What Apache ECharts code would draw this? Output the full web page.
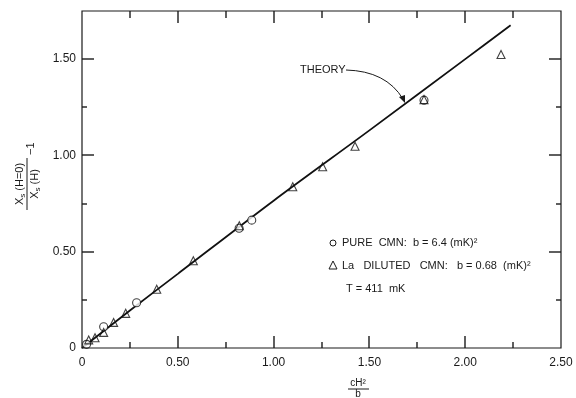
<!DOCTYPE html>
<html><head><meta charset="utf-8">
<script src="https://cdn.jsdelivr.net/npm/echarts@6/dist/echarts.min.js"></script>
<style>html,body{margin:0;padding:0;background:#fff}#c{width:576px;height:398px}</style>
</head><body><div id="c"></div>
<script>
// Data
const pureX = [0.024, 0.113, 0.285, 0.82, 0.886, 1.785];
const pureY = [0.019, 0.110, 0.235, 0.622, 0.664, 1.287];
const dilX = [0.035, 0.068, 0.113, 0.165, 0.228, 0.39, 0.581, 0.821, 1.10, 1.256, 1.425, 1.785, 2.187];
const dilY = [0.042, 0.053, 0.081, 0.133, 0.180, 0.305, 0.453, 0.635, 0.837, 0.941, 1.048, 1.290, 1.524];
const theoryX = [0, 0.25, 0.5, 1.0, 1.5, 2.0, 2.237];
const theoryY = [0, 0.195, 0.385, 0.765, 1.13, 1.50, 1.676];
const xTicks = ['0', '0.50', '1.00', '1.50', '2.00', '2.50'];
const yTicks = ['0', '0.50', '1.00', '1.50'];
const xTickVals = [0.25, 0.5, 0.75, 1.0, 1.25, 1.5, 1.75, 2.0, 2.25];
const yTickVals = [0.25, 0.5, 0.75, 1.0, 1.25, 1.5];
const xRange = [0, 2.5];
const yRange = [0, 1.75];

const zip = (a, b) => a.map((v, i) => [v, b[i]]);
const font = 'Liberation Sans';
const ink = '#1a1a1a';
const isMajor = v => Math.abs(v / 0.5 - Math.round(v / 0.5)) < 1e-6;

const chart = echarts.init(document.getElementById('c'));
function axis(extra) {
  return Object.assign({
    type: 'value',
    axisLine: {show: false},
    splitLine: {show: false},
    axisTick: {show: false},
    minorTick: {show: false}
  }, extra);
}

chart.setOption({
  animation: false,
  backgroundColor: '#fff',
  grid: {left: 82, right: 15, top: 11, bottom: 50, show: false},
  xAxis: [
    axis({min: xRange[0], max: xRange[1], interval: 0.5, position: 'bottom',
      axisLabel: {margin: 9, fontFamily: font, fontSize: 12, color: ink,
        formatter: v => xTicks[Math.round(v / 0.5)] || ''}})
  ],
  yAxis: [
    axis({min: yRange[0], max: yRange[1], interval: 0.5, position: 'left',
      axisLabel: {margin: 6, fontFamily: font, fontSize: 12, color: ink, showMaxLabel: false,
        formatter: v => (isMajor(v) && yTicks[Math.round(v / 0.5)]) || ''}})
  ],
  series: [
    {type: 'line', name: 'Theory', data: zip(theoryX, theoryY), showSymbol: false, smooth: 0.3,
     lineStyle: {color: '#111', width: 1.8}, z: 2},
    {type: 'scatter', name: 'Pure CMN', data: zip(pureX, pureY), symbol: 'circle', symbolSize: 8,
     itemStyle: {color: '#fff', borderColor: '#111', borderWidth: 1.1}, z: 3},
    {type: 'scatter', name: 'La diluted CMN', data: zip(dilX, dilY), symbol: 'triangle', symbolSize: 8,
     itemStyle: {color: 'rgba(255,255,255,0)', borderColor: '#111', borderWidth: 1.1}, z: 4}
  ]
});

// frame and inward ticks positioned through the chart's own scales
const toPx = (x, y) => chart.convertToPixel({xAxisIndex: 0, yAxisIndex: 0}, [x, y]);
const lo = toPx(xRange[0], yRange[0]);
const hi = toPx(xRange[1], yRange[1]);
const W = 1.4;
const frame = [{type: 'rect', shape: {x: lo[0], y: hi[1], width: hi[0] - lo[0], height: lo[1] - hi[1]},
  style: {stroke: ink, lineWidth: 1.2, fill: null}, z: 10}];
const bar = (x, y, w, h) => ({type: 'rect', shape: {x: x, y: y, width: w, height: h}, style: {fill: ink}, z: 10});
xTickVals.forEach(v => {
  const px = Math.round(toPx(v, 0)[0]);
  const m = isMajor(v);
  const lb = m ? 12 : 6, lt = m ? 12 : 7;
  frame.push(bar(px - W / 2, lo[1] - lb, W, lb));
  frame.push(bar(px - W / 2, hi[1], W, lt));
});
yTickVals.forEach(v => {
  const py = Math.round(toPx(0, v)[1]);
  const m = isMajor(v);
  const l = m ? 12 : 5;
  frame.push(bar(lo[0], py - W / 2, l, W));
  frame.push(bar(hi[0] - l, py - W / 2, l, W));
});

const texts = [
  // legend texts
  {type: 'circle', shape: {cx: 333, cy: 243, r: 3}, style: {fill: '#fff', stroke: ink, lineWidth: 1}},
  {type: 'text', x: 342, y: 243, style: {text: 'PURE  CMN:  b = 6.4 (mK)²', font: '11px "Liberation Sans"', fill: ink, verticalAlign: 'middle'}},
  {type: 'polygon', shape: {points: [[333, 261], [337, 269], [329, 269]]}, style: {fill: 'none', stroke: ink, lineWidth: 1}},
  {type: 'text', x: 342, y: 266, style: {text: 'La   DILUTED   CMN:   b = 0.68  (mK)²', font: '11px "Liberation Sans"', fill: ink, verticalAlign: 'middle'}},
  {type: 'text', x: 346, y: 289, style: {text: 'T = 411  mK', font: '11px "Liberation Sans"', fill: ink, verticalAlign: 'middle'}},
  // THEORY annotation
  {type: 'text', x: 300, y: 70, style: {text: 'THEORY', font: '11px "Liberation Sans"', fill: ink, verticalAlign: 'middle'}},
  {type: 'bezierCurve', shape: {x1: 346, y1: 70, cpx1: 386, cpy1: 71, x2: 403, y2: 99}, style: {stroke: ink, lineWidth: 1, fill: 'none'}},
  {type: 'polygon', shape: {points: [[405, 103], [399, 97], [405, 95]]}, style: {fill: ink}},
  // x axis title
  {type: 'text', x: 358, y: 383, style: {text: 'cH²', font: '10px "Liberation Sans"', fill: ink, align: 'center', verticalAlign: 'middle'}},
  {type: 'line', shape: {x1: 348, y1: 389, x2: 369, y2: 389}, style: {stroke: ink, lineWidth: 1}},
  {type: 'text', x: 358, y: 394, style: {text: 'b', font: '10px "Liberation Sans"', fill: ink, align: 'center', verticalAlign: 'middle'}},
  // y axis title (rotated)
  {type: 'group', x: 27, y: 184, rotation: Math.PI / 2, children: [
    {type: 'text', x: 0, y: -7, style: {text: '{a|X}{s|s}{a| (H=0)}', align: 'center', verticalAlign: 'middle',
      rich: {a: {fontFamily: font, fontSize: 11, fill: ink}, s: {fontFamily: font, fontSize: 8, fill: ink, padding: [6, 0, 0, 0]}}}},
    {type: 'line', shape: {x1: -26, y1: 0, x2: 26, y2: 0}, style: {stroke: ink, lineWidth: 1}},
    {type: 'text', x: 0, y: 8, style: {text: '{a|X}{s|s}{a| (H)}', align: 'center', verticalAlign: 'middle',
      rich: {a: {fontFamily: font, fontSize: 11, fill: ink}, s: {fontFamily: font, fontSize: 8, fill: ink, padding: [6, 0, 0, 0]}}}},
    {type: 'text', x: 29, y: 4, style: {text: '−1', font: '11px "Liberation Sans"', fill: ink, verticalAlign: 'middle'}}
  ]}
];

chart.setOption({graphic: {elements: frame.concat(texts)}});
</script></body></html>
